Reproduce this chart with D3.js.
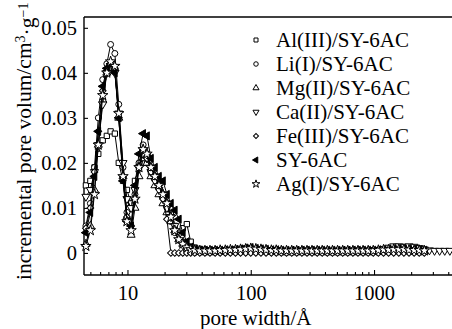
<!DOCTYPE html>
<html>
<head>
<meta charset="utf-8">
<script src="https://cdn.jsdelivr.net/npm/d3@7"></script>
<style>
  body { margin: 0; background: #fff; }
  svg text { font-family: 'Liberation Serif', 'DejaVu Serif', serif; }
</style>
</head>
<body>
<div id="chart"></div>
<script>
// pore width grid (Å), shared by all samples
const poreWidth = [4.6, 5.0, 5.4, 5.8, 6.3, 6.8, 7.3, 7.9, 8.5, 9.2, 9.9, 10.7, 11.5, 12.4, 13.4, 14.4,
  15.5, 16.7, 18.0, 19.4, 20.9, 22.5, 24.2, 26.1, 28.1, 30.3, 32.6, 35.1,
  38.6, 42.5, 46.7, 51.4, 56.5, 62.2, 68.4, 75.2, 82.7, 91.0, 100, 110, 121, 133, 147, 161, 177, 195,
  215, 236, 260, 286, 314, 346, 380, 418, 460, 506, 557, 612, 674, 741, 815, 897, 986, 1085, 1194,
  1313, 1444, 1589, 1747, 1922, 2114, 2326, 2558, 2814, 3095, 3405, 3745, 4120];

const seriesNames = ['Al(III)/SY-6AC', 'Li(I)/SY-6AC', 'Mg(II)/SY-6AC', 'Ca(II)/SY-6AC',
  'Fe(III)/SY-6AC', 'SY-6AC', 'Ag(I)/SY-6AC'];
const seriesSymbols = ['square', 'circle', 'triUp', 'triDown', 'diamond', 'triLeft', 'star'];

const alValues = [0.015, 0.016, 0.019, 0.022, 0.025, 0.026, 0.027, 0.0265, 0.020, 0.016, 0.014, 0.011, 0.016, 0.019,
  0.020, 0.020, 0.018, 0.017, 0.015, 0.013, 0.011, 0.0085, 0.006, 0.0045, 0.0055, 0.0064, 0.0025, 0.0012,
  0.0009, 0.0007, 0.0006, 0.0006, 0.0006, 0.0006, 0.0007, 0.0008, 0.0009, 0.0010, 0.0010, 0.0009, 0.0008,
  0.0007, 0.0006, 0.0006, 0.0006, 0.0005, 0.0005, 0.0005, 0.0005, 0.0005, 0.0005, 0.0005, 0.0005, 0.0005,
  0.0005, 0.0005, 0.0005, 0.0005, 0.0005, 0.0005, 0.0005, 0.0005, 0.0006, 0.0006, 0.0007, 0.0008, 0.0009,
  0.0009, 0.0009, 0.0008, 0.0007, 0.0006, 0.0006];
const liValues = [0.006, 0.011, 0.019, 0.030, 0.0385, 0.042, 0.0463, 0.0443, 0.033, 0.019, 0.009, 0.006, 0.013, 0.020,
  0.024, 0.022, 0.019, 0.017, 0.015, 0.013, 0.010, 0.007, 0.0045, 0.0028, 0.0017, 0.0011, 0.0008, 0.0006,
  0.0005, 0.0005, 0.0005, 0.0005, 0.0005, 0.0006, 0.0006, 0.0007, 0.0008, 0.0009, 0.0009, 0.0008, 0.0007,
  0.0006, 0.0006, 0.0006, 0.0005, 0.0005, 0.0005, 0.0005, 0.0005, 0.0005, 0.0005, 0.0005, 0.0005, 0.0005,
  0.0005, 0.0005, 0.0005, 0.0005, 0.0005, 0.0005, 0.0005, 0.0005, 0.0005, 0.0006, 0.0006, 0.0007, 0.0008,
  0.0008, 0.0008, 0.0007, 0.0007, 0.0006, 0.0005];
const mgValues = [0.002, 0.006, 0.014, 0.024, 0.034, 0.040, 0.042, 0.041, 0.030, 0.017, 0.008, 0.004, 0.010, 0.017,
  0.021, 0.020, 0.017, 0.015, 0.013, 0.011, 0.009, 0.007, 0.005, 0.003, 0.002, 0.0012, 0.0008, 0.0006,
  0.0005, 0.0004, 0.0004, 0.0004, 0.0004, 0.0005, 0.0005, 0.0006, 0.0007, 0.0008, 0.0008, 0.0007, 0.0006,
  0.0005, 0.0005, 0.0005, 0.0004, 0.0004, 0.0004, 0.0004, 0.0004, 0.0004, 0.0004, 0.0004, 0.0004, 0.0004,
  0.0004, 0.0004, 0.0004, 0.0004, 0.0004, 0.0004, 0.0004, 0.0004, 0.0004, 0.0005, 0.0005, 0.0006, 0.0006,
  0.0007, 0.0007, 0.0006, 0.0006, 0.0005, 0.0004];
const caValues = [0.0125, 0.014, 0.018, 0.024, 0.033, 0.040, 0.0415, 0.040, 0.031, 0.020, 0.012, 0.010, 0.014, 0.019,
  0.022, 0.021, 0.018, 0.016, 0.014, 0.012, 0.010, 0.008, 0.006, 0.004, 0.0025, 0.0015, 0.001, 0.0007,
  0.0006, 0.0005, 0.0005, 0.0005, 0.0005, 0.0005, 0.0006, 0.0006, 0.0007, 0.0008, 0.0008, 0.0007, 0.0006,
  0.0006, 0.0005, 0.0005, 0.0005, 0.0005, 0.0005, 0.0005, 0.0005, 0.0005, 0.0005, 0.0005, 0.0005, 0.0005,
  0.0005, 0.0005, 0.0005, 0.0005, 0.0005, 0.0005, 0.0005, 0.0005, 0.0006, 0.0007, 0.0009, 0.0012, 0.0015,
  0.0015, 0.0014, 0.0015, 0.0014, 0.0011, 0.0008, 0.0006, 0.0005, 0.0005, 0.0005, 0.0005];
const feValues = [0.0055, 0.010, 0.018, 0.027, 0.036, 0.041, 0.042, 0.041, 0.030, 0.017, 0.008, 0.006, 0.012, 0.019,
  0.023, 0.021, 0.019, 0.017, 0.015, 0.012, 0.0075, 0, 0, 0, 0, 0, 0, 0,
  0, 0, 0, 0, 0, 0, 0, 0, 0, 0, 0, 0, 0, 0, 0, 0, 0, 0, 0, 0, 0, 0, 0, 0, 0,
  0, 0, 0, 0, 0, 0, 0, 0, 0, 0, 0, 0, 0, 0, 0, 0, 0, 0, 0, 0];
const syValues = [0.0045, 0.009, 0.017, 0.027, 0.037, 0.041, 0.042, 0.040, 0.030, 0.016, 0.007, 0.006, 0.015, 0.022,
  0.0265, 0.026, 0.021, 0.019, 0.017, 0.016, 0.013, 0.011, 0.0095, 0.0075, 0.0045, 0.0025, 0.0013, 0.0008,
  0.0006, 0.0006, 0.0006, 0.0006, 0.0006, 0.0007, 0.0007, 0.0008, 0.0009, 0.0011, 0.0012, 0.0010, 0.0009,
  0.0008, 0.0007, 0.0007, 0.0006, 0.0006, 0.0006, 0.0006, 0.0006, 0.0006, 0.0006, 0.0006, 0.0006, 0.0006,
  0.0006, 0.0006, 0.0006, 0.0006, 0.0006, 0.0006, 0.0006, 0.0006, 0.0006, 0.0007, 0.0007, 0.0008, 0.0009,
  0.0009, 0.0009, 0.0008, 0.0008, 0.0007, 0.0006];
const agValues = [0.0015, 0.005, 0.013, 0.024, 0.035, 0.040, 0.0425, 0.0415, 0.031, 0.017, 0.007, 0.005, 0.012, 0.019,
  0.023, 0.022, 0.019, 0.017, 0.015, 0.013, 0.011, 0.008, 0.005, 0.003, 0.002, 0.0012, 0.0008, 0.0006,
  0.0005, 0.0005, 0.0005, 0.0005, 0.0006, 0.0006, 0.0007, 0.0007, 0.0008, 0.0009, 0.0010, 0.0009, 0.0008,
  0.0007, 0.0006, 0.0006, 0.0005, 0.0005, 0.0005, 0.0005, 0.0005, 0.0005, 0.0005, 0.0005, 0.0005, 0.0005,
  0.0005, 0.0005, 0.0005, 0.0005, 0.0005, 0.0005, 0.0005, 0.0005, 0.0005, 0.0006, 0.0007, 0.0007, 0.0008,
  0.0008, 0.0008, 0.0007, 0.0006, 0.0006, 0.0005];

const xMajorTicks = [10, 100, 1000];
const yTickValues = [0, 0.01, 0.02, 0.03, 0.04, 0.05];

const allValues = [alValues, liValues, mgValues, caValues, feValues, syValues, agValues];
const series = seriesNames.map((name, i) => ({
  name,
  symbol: seriesSymbols[i],
  points: allValues[i].map((v, j) => ({ w: poreWidth[j], v }))
}));

const W = 452, H = 329;
const plot = { left: 84, right: 452, top: 17, bottom: 275 };
const serif = "'Liberation Serif', 'DejaVu Serif', serif";

const svg = d3.select('#chart').append('svg')
  .attr('width', W)
  .attr('height', H);

const x = d3.scaleLog().domain([4.44, 4290]).range([plot.left, plot.right]);
const y = d3.scaleLinear().domain([-0.0049, 0.0524]).range([plot.bottom, plot.top]);

// marker paths
function symbolPath(kind, size) {
  switch (kind) {
    case 'square': return d3.symbol(d3.symbolSquare, size)();
    case 'circle': return d3.symbol(d3.symbolCircle, size)();
    case 'triUp':
    case 'triDown':
    case 'triLeft': return d3.symbol(d3.symbolTriangle, size)();
    case 'diamond': return d3.symbol(d3.symbolSquare, size * 0.8)();
    case 'star': return d3.symbol(d3.symbolStar, size * 1.2)();
  }
}
function symbolRotate(kind) {
  if (kind === 'triDown') return 180;
  if (kind === 'triLeft') return -90;
  if (kind === 'diamond') return 45;
  return 0;
}

// axes
const xAxis = svg.append('g')
  .attr('transform', `translate(0,${plot.bottom})`)
  .call(d3.axisBottom(x).tickValues(xMajorTicks).tickSize(-5).tickSizeOuter(0)
    .tickPadding(10).tickFormat(d3.format('d')));

const xMinorTicks = x.ticks().filter(v => !xMajorTicks.some(m => Math.abs(m - v) < 1e-6));
svg.append('g')
  .attr('transform', `translate(0,${plot.bottom})`)
  .call(d3.axisBottom(x).tickValues(xMinorTicks).tickSize(-3).tickSizeOuter(0).tickFormat(''))
  .call(g => g.select('.domain').remove());

const yAxis = svg.append('g')
  .attr('transform', `translate(${plot.left},0)`)
  .call(d3.axisLeft(y).tickValues(yTickValues).tickSize(-4).tickSizeOuter(0)
    .tickPadding(7).tickFormat(d => d === 0 ? '0' : d3.format('.2f')(d)));

[xAxis, yAxis].forEach(g => {
  g.attr('font-family', serif).attr('font-size', 20.5);
  g.selectAll('text').attr('fill', '#000');
  g.selectAll('line, path').attr('stroke', '#000').attr('stroke-width', 1.4);
});
svg.selectAll('.tick line').attr('stroke', '#000').attr('stroke-width', 1.1);

// extend domains so the frame corners meet
xAxis.select('.domain').attr('d', `M${plot.left},0H${plot.right}`);
yAxis.select('.domain').attr('d', `M0,${plot.top}V${plot.bottom}`);

// top frame line
svg.append('line')
  .attr('x1', plot.left).attr('x2', plot.right)
  .attr('y1', plot.top).attr('y2', plot.top)
  .attr('stroke', '#000').attr('stroke-width', 1.4);

// series lines and markers
const line = d3.line().x(d => x(d.w)).y(d => y(d.v));

const seriesG = svg.append('g')
  .selectAll('g')
  .data(series)
  .join('g');

seriesG.append('path')
  .attr('d', d => line(d.points))
  .attr('fill', 'none')
  .attr('stroke', '#000')
  .attr('stroke-width', 1);

seriesG.each(function(s) {
  d3.select(this).selectAll('path.mark')
    .data(s.points)
    .join('path')
    .attr('class', 'mark')
    .attr('d', symbolPath(s.symbol, 28))
    .attr('transform', d => `translate(${x(d.w)},${y(d.v)}) rotate(${symbolRotate(s.symbol)})`)
    .attr('fill', s.symbol === 'triLeft' ? '#000' : '#fff')
    .attr('stroke', '#000')
    .attr('stroke-width', 1);
});

// legend
const legend = svg.append('g')
  .attr('font-family', serif)
  .attr('font-size', 21)
  .selectAll('g')
  .data(series)
  .join('g')
  .attr('transform', (d, i) => `translate(256,${40 + i * 24})`);

legend.append('path')
  .attr('d', d => symbolPath(d.symbol, 16))
  .attr('transform', d => `rotate(${symbolRotate(d.symbol)})`)
  .attr('fill', d => d.symbol === 'triLeft' ? '#000' : '#fff')
  .attr('stroke', '#000')
  .attr('stroke-width', 1);

legend.append('text')
  .attr('x', 20)
  .attr('dy', '0.35em')
  .text(d => d.name);

// axis titles
svg.append('text')
  .attr('x', 200)
  .attr('y', 325)
  .attr('font-family', serif)
  .attr('font-size', 21)
  .text('pore width/Å');

const yTitle = svg.append('text')
  .attr('transform', 'translate(31,280) rotate(-90)')
  .attr('font-family', serif)
  .attr('font-size', 21.5);
yTitle.append('tspan').text('incremental pore volum/cm');
yTitle.append('tspan').attr('dy', '-0.45em').attr('font-size', 14).text('3');
yTitle.append('tspan').attr('dy', '0.45em').text('·g');
yTitle.append('tspan').attr('dy', '-0.45em').attr('font-size', 14).text('−1');
</script>
</body>
</html>
